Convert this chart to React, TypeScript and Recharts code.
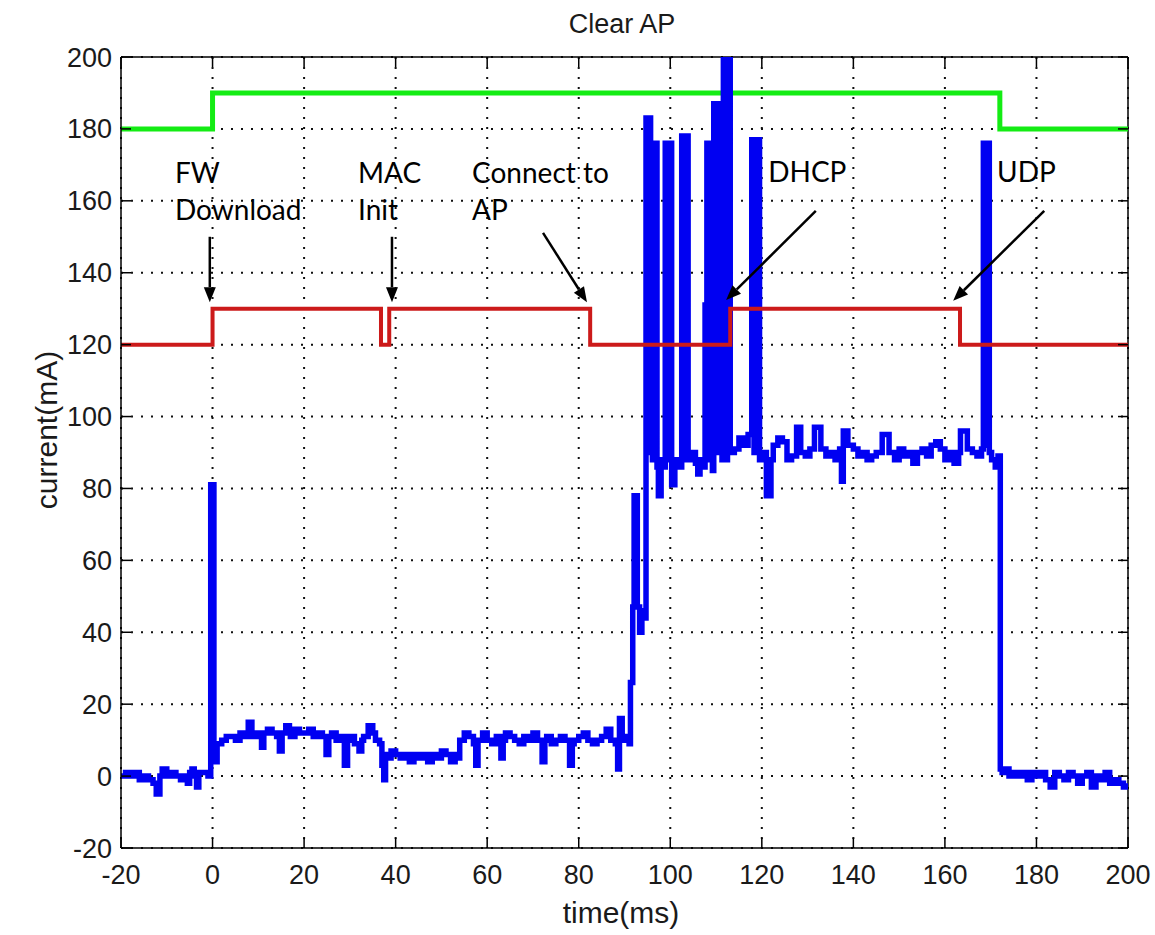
import React from 'react'
import {
  LineChart,
  Line,
  XAxis,
  YAxis,
  CartesianGrid,
  ReferenceLine,
  ReferenceDot,
  Label,
} from 'recharts'

// axis ticks
const xTicks = [-20, 0, 20, 40, 60, 80, 100, 120, 140, 160, 180, 200]
const yTicks = [-20, 0, 20, 40, 60, 80, 100, 120, 140, 160, 180, 200]

// green (top) and red (middle) state traces, step changes
const greenTimes = [-20, 0, 172, 200]
const greenLevels = [180, 190, 180, 180]
const redTimes = [-20, 0, 36.8, 38.6, 82.5, 113.1, 163.3, 200]
const redLevels = [120, 130, 120, 130, 120, 130, 120, 120]

// blue current trace, [time ms, current mA], read phase by phase
const idleStart: [number, number][] = [
  [-20, 0], [-19, 1], [-18, 0], [-17, 1], [-16, -1], [-15, 0], [-14, -1], [-13, -2],
  [-12.3, -5], [-11.5, 0], [-11, 2], [-10, 0], [-9, 1], [-8, 0], [-7, -1], [-6, 0],
  [-5.5, -2], [-5, 1], [-4.5, 2], [-4, 0], [-3.5, -3], [-3, 1], [-2, 1], [-1, 0],
]
const fwDownload: [number, number][] = [
  [-0.4, 81], [0.3, 4], [1, 9], [2, 10], [3, 11], [4, 11], [5, 10], [6, 12], [7, 11],
  [7.8, 15], [8.6, 11], [9, 12], [10, 11], [10.7, 8], [11.2, 12], [12, 13], [13, 12],
  [14, 11], [14.6, 7], [15.2, 12], [16, 14], [16.8, 12], [17, 11], [18, 13], [19, 12],
  [20, 12], [21, 13], [22, 11], [23, 12], [24, 11], [24.8, 6], [25.4, 11], [26, 12],
  [27, 10], [28, 11], [28.8, 3], [29.5, 10], [30, 11], [31, 9], [32, 7], [32.6, 10],
  [33, 11], [34, 14], [35, 12], [35.6, 10], [36.5, 9], [37, 3], [37.4, -1], [37.8, 6],
]
const macInit: [number, number][] = [
  [38.5, 5], [39, 7], [40, 6], [41, 5], [42, 6], [43, 4], [44, 6], [45, 5], [46, 6],
  [47, 4], [48, 6], [49, 5], [50, 7], [51, 6], [52, 4], [53, 6], [53.5, 5],
]
const connectAp: [number, number][] = [
  [54, 10], [55, 12], [56, 11], [57, 9], [57.5, 3], [58, 10], [59, 12], [60, 10],
  [61, 9], [62, 11], [63, 5], [63.5, 10], [64, 12], [65, 11], [66, 10], [67, 9],
  [68, 11], [69, 10], [70, 12], [71, 10], [72, 4], [72.6, 10], [73, 11], [74, 9],
  [75, 10], [76, 11], [77, 10], [78, 3], [78.6, 9], [79, 10], [80, 11], [81, 12],
  [82, 10], [83, 9], [84, 10], [85, 11], [86, 13], [87, 10], [88, 9], [88.5, 2],
  [88.9, 16], [89.5, 10], [90, 11], [91, 9],
]
const dhcpBurst: [number, number][] = [
  [91.3, 26], [91.8, 47], [92.1, 78], [92.8, 47], [93.3, 40], [93.8, 46], [94.4, 44],
  [94.7, 183], [95.2, 90], [95.4, 183], [95.7, 176], [96.1, 88], [96.5, 176], [97.1, 86],
  [97.4, 78], [98, 88], [98.5, 86], [98.9, 176], [99.4, 88], [99.8, 176], [100.3, 81],
  [101, 88], [102, 86], [102.5, 178], [103, 88], [103.4, 178], [103.9, 90], [104.3, 88],
  [105, 90], [105.5, 87], [106, 84], [106.5, 88], [107, 86], [107.6, 131], [108, 176],
  [108.4, 88], [108.8, 176], [109.2, 85], [109.5, 187], [110, 90], [110.3, 187], [110.9, 92],
  [111.3, 88], [111.6, 215], [112.1, 88], [112.5, 215], [113.1, 90], [114, 91], [115, 94],
  [116, 92], [117, 95], [117.8, 177], [118.3, 90], [118.7, 177], [119.5, 88], [120, 90],
  [121, 78], [122, 88],
]
const connected: [number, number][] = [
  [122.5, 92], [123.5, 94], [124.5, 93], [125.5, 88], [126.5, 89], [127.6, 97], [128.5, 90],
  [129.5, 89], [130.5, 91], [131.5, 97], [132.9, 91], [134, 89], [135, 90], [136, 88],
  [137, 91], [137.4, 82], [137.8, 96], [138.8, 92], [140, 91], [141, 89], [142, 90],
  [143, 88], [144, 89], [145, 90], [146.3, 95], [147.8, 90], [149, 88], [150, 91],
  [151, 89], [152, 90], [153, 87], [154, 90], [155, 91], [156, 89], [157, 92], [158, 93],
  [159, 91], [160, 88], [161, 90], [162, 87], [163, 90], [163.4, 96], [164.9, 91],
  [166, 90], [167, 89], [168, 91],
]
const udpSend: [number, number][] = [
  [168.4, 176], [168.8, 92], [169.2, 176], [169.7, 90], [170.2, 88], [171, 86],
  [171.6, 89], [172.1, 2],
]
const idleEnd: [number, number][] = [
  [172.5, 1], [173, 2], [174, 0], [175, 1], [176, 0], [177, 1], [178, -1], [179, 1],
  [180, 0], [181, 1], [182, -1], [183, -3], [184, 1], [185, 0], [186, -1], [187, 1],
  [188, 0], [189, -2], [190, 0], [191, 1], [192, -3], [193, 0], [194, -1], [195, 1],
  [196, -2], [197, -1], [198, -2], [199, -3], [200, -2],
]

// annotation text and arrows, in data units
const notes = [
  { lines: ['FW', 'Download'], at: [-8.2, 165], from: [-0.6, 150], to: [-0.6, 131.8] },
  { lines: ['MAC', 'Init'], at: [31.8, 165], from: [39.2, 150], to: [39.2, 131.8] },
  { lines: ['Connect to', 'AP'], at: [56.7, 165], from: [72.2, 151.1], to: [81.8, 131.8] },
  { lines: ['DHCP'], at: [121.4, 165.3], from: [131.8, 157.2], to: [112.2, 132.4] },
  { lines: ['UDP'], at: [171.4, 165.3], from: [181.7, 157.2], to: [161.8, 132.2] },
]

const PLOT_W = 1007
const PLOT_H = 791
const tickFont = { fontFamily: 'Liberation Sans, Arial, sans-serif', fontSize: 27, fill: '#1a1a1a' }

const pairs = (ts: number[], vs: number[]) => ts.map((t, i) => ({ t, v: vs[i] }))
const greenData = pairs(greenTimes, greenLevels)
const redData = pairs(redTimes, redLevels)
const blueData = [...idleStart, ...fwDownload, ...macInit, ...connectAp, ...dhcpBurst, ...connected, ...udpSend, ...idleEnd].map(
  ([t, v]) => ({ t, v })
)

const XTick = (props: any) => {
  const { x, y, payload } = props
  return (
    <g>
      <line x1={x} y1={y} x2={x} y2={y - 10} stroke="#000" strokeWidth={1.5} />
      <line x1={x} y1={y - PLOT_H} x2={x} y2={y - PLOT_H + 10} stroke="#000" strokeWidth={1.5} />
      <text x={x} y={y + 36} textAnchor="middle" {...tickFont}>
        {payload.value}
      </text>
    </g>
  )
}

const YTick = (props: any) => {
  const { x, y, payload } = props
  return (
    <g>
      <line x1={x} y1={y} x2={x + 10} y2={y} stroke="#000" strokeWidth={1.5} />
      <line x1={x + PLOT_W} y1={y} x2={x + PLOT_W - 10} y2={y} stroke="#000" strokeWidth={1.5} />
      <text x={x - 9} y={y + 9.5} textAnchor="end" {...tickFont}>
        {payload.value}
      </text>
    </g>
  )
}

const Arrow = (props: any) => {
  const { x1, y1, x2, y2 } = props
  const a = Math.atan2(y2 - y1, x2 - x1)
  const len = 15
  const half = 6
  const bx = x2 - len * Math.cos(a)
  const by = y2 - len * Math.sin(a)
  const nx = -Math.sin(a) * half
  const ny = Math.cos(a) * half
  return (
    <g>
      <line x1={x1} y1={y1} x2={bx} y2={by} stroke="#000" strokeWidth={2.5} />
      <polygon points={`${x2},${y2} ${bx + nx},${by + ny} ${bx - nx},${by - ny}`} fill="#000" />
    </g>
  )
}

const noteText = (lines: string[]) => (props: any) => (
  <text x={props.cx} y={props.cy} fontFamily="Lato, 'Open Sans', sans-serif" fontSize={28} fill="#000">
    {lines.map((l, i) => (
      <tspan key={l} x={props.cx} dy={i === 0 ? 0 : 37}>
        {l}
      </tspan>
    ))}
  </text>
)

const App = () => {
  return (
    <div style={{ position: 'absolute', left: 0, top: 0, width: 1155, height: 935, background: '#fff' }}>
      <LineChart width={1155} height={935} margin={{ top: 57, right: 27, bottom: 7, left: 41 }}>
        <CartesianGrid stroke="#111" strokeWidth={2} strokeDasharray="2 8" />
        <XAxis
          dataKey="t"
          type="number"
          domain={[-20, 200]}
          ticks={xTicks}
          allowDataOverflow
          height={80}
          tickSize={0}
          tickMargin={0}
          tickLine={false}
          tick={XTick}
          stroke="#000"
          strokeWidth={1.5}
        >
          <Label
            content={() => (
              <text x={621} y={923} textAnchor="middle" fontFamily="Liberation Sans, Arial, sans-serif" fontSize={30} fill="#1a1a1a">
                time(ms)
              </text>
            )}
          />
          <Label
            content={() => (
              <text x={622} y={33} textAnchor="middle" fontFamily="Liberation Sans, Arial, sans-serif" fontSize={27} fill="#1a1a1a">
                Clear AP
              </text>
            )}
          />
        </XAxis>
        <YAxis
          type="number"
          domain={[-20, 200]}
          ticks={yTicks}
          allowDataOverflow
          width={80}
          tickSize={0}
          tickMargin={0}
          tickLine={false}
          tick={YTick}
          stroke="#000"
          strokeWidth={1.5}
        >
          <Label
            content={() => (
              <text
                x={46}
                y={430}
                transform="rotate(-90 46 430)"
                textAnchor="middle"
                dominantBaseline="central"
                fontFamily="Liberation Sans, Arial, sans-serif"
                fontSize={30}
                fill="#1a1a1a"
              >
                current(mA)
              </text>
            )}
          />
        </YAxis>
        <ReferenceLine y={200} stroke="#000" strokeWidth={1.5} />
        <ReferenceLine x={200} stroke="#000" strokeWidth={1.5} />
        <Line data={greenData} dataKey="v" type="stepAfter" stroke="#14ec14" strokeWidth={5} dot={false} isAnimationActive={false} />
        <Line data={blueData} dataKey="v" type="stepAfter" stroke="#0000f2" strokeWidth={5.5} dot={false} isAnimationActive={false} />
        <Line data={redData} dataKey="v" type="stepAfter" stroke="#cc1a1a" strokeWidth={4} dot={false} isAnimationActive={false} />
        {notes.map((n) => (
          <ReferenceDot key={n.lines[0]} x={n.at[0]} y={n.at[1]} r={0} shape={noteText(n.lines)} />
        ))}
        {notes.map((n) => (
          <ReferenceLine
            key={'arrow' + n.lines[0]}
            segment={[
              { x: n.from[0], y: n.from[1] },
              { x: n.to[0], y: n.to[1] },
            ]}
            shape={Arrow}
          />
        ))}
      </LineChart>
    </div>
  )
}

export default App
